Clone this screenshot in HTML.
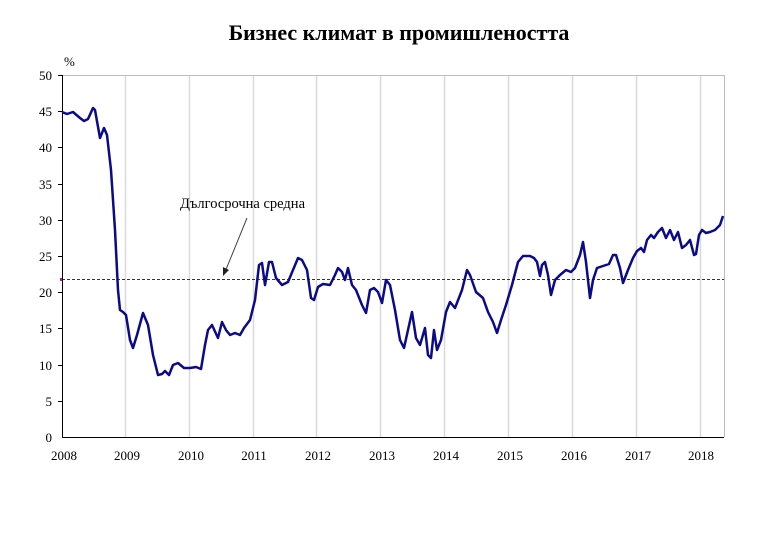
<!DOCTYPE html><html><head><meta charset="utf-8"><style>body{margin:0;background:#fff}</style></head><body>
<svg width="768" height="529" xmlns="http://www.w3.org/2000/svg" font-family="Liberation Serif, serif">
<rect width="768" height="529" fill="#fff"/>
<text x="399" y="40" text-anchor="middle" font-size="22" font-weight="bold">Бизнес климат в промишлеността</text>
<g stroke="#d9d9d9" stroke-width="1.5">
<line x1="125.5" y1="75" x2="125.5" y2="437"/><line x1="189.5" y1="75" x2="189.5" y2="437"/><line x1="253.5" y1="75" x2="253.5" y2="437"/><line x1="316.5" y1="75" x2="316.5" y2="437"/><line x1="380.5" y1="75" x2="380.5" y2="437"/><line x1="444.5" y1="75" x2="444.5" y2="437"/><line x1="508.5" y1="75" x2="508.5" y2="437"/><line x1="572.5" y1="75" x2="572.5" y2="437"/><line x1="636.5" y1="75" x2="636.5" y2="437"/><line x1="700.5" y1="75" x2="700.5" y2="437"/>
</g>
<line x1="62" y1="75.5" x2="724" y2="75.5" stroke="#bbb"/>
<line x1="724.5" y1="75" x2="724.5" y2="437" stroke="#bbb"/>
<line x1="62" y1="279.5" x2="724" y2="279.5" stroke="#333" stroke-dasharray="3,2"/>
<rect x="60" y="278" width="3" height="3" fill="#d0a"/>
<line x1="62.5" y1="75" x2="62.5" y2="437" stroke="#000"/>
<line x1="62" y1="437.5" x2="724" y2="437.5" stroke="#000"/>
<g stroke="#000"><line x1="58" y1="75.5" x2="62" y2="75.5"/><line x1="58" y1="111.5" x2="62" y2="111.5"/><line x1="58" y1="147.5" x2="62" y2="147.5"/><line x1="58" y1="184.5" x2="62" y2="184.5"/><line x1="58" y1="220.5" x2="62" y2="220.5"/><line x1="58" y1="256.5" x2="62" y2="256.5"/><line x1="58" y1="292.5" x2="62" y2="292.5"/><line x1="58" y1="328.5" x2="62" y2="328.5"/><line x1="58" y1="365.5" x2="62" y2="365.5"/><line x1="58" y1="401.5" x2="62" y2="401.5"/></g>
<g font-size="13" text-anchor="end">
<text x="52" y="80">50</text><text x="52" y="116">45</text><text x="52" y="152">40</text><text x="52" y="189">35</text><text x="52" y="225">30</text><text x="52" y="261">25</text><text x="52" y="297">20</text><text x="52" y="333">15</text><text x="52" y="370">10</text><text x="52" y="406">5</text><text x="52" y="442">0</text></g>
<text x="64" y="66" font-size="13">%</text>
<g font-size="13" text-anchor="middle">
<text x="64" y="460">2008</text><text x="127" y="460">2009</text><text x="191" y="460">2010</text><text x="254" y="460">2011</text><text x="318" y="460">2012</text><text x="382" y="460">2013</text><text x="446" y="460">2014</text><text x="510" y="460">2015</text><text x="574" y="460">2016</text><text x="638" y="460">2017</text><text x="701" y="460">2018</text></g>
<text x="180" y="208" font-size="14.5">Дългосрочна средна</text>
<line x1="247" y1="218" x2="225" y2="272" stroke="#444"/>
<polygon points="223,276 223,267 229,270" fill="#222"/>
<polyline fill="none" stroke="#0a0a8a" stroke-width="2.5" stroke-linejoin="round" points="62,112 67,114 73,112 80,118 84,121 88,119 93,108 95,110 100,138 104,128 107,135 111,170 115,230 118,290 120,310 123,312 126,315 130,340 133,348 137,335 143,313 148,325 153,355 158,375 162,374 165,371 169,375 173,365 178,363 184,368 190,368 196,367 201,369 205,345 208,330 212,325 218,338 222,322 226,330 230,335 235,333 240,335 244,328 250,320 255,300 259,265 262,263 265,285 269,262 272,262 276,278 282,285 288,282 293,270 298,258 302,260 307,270 311,298 314,300 318,287 323,284 330,285 335,275 338,268 342,272 345,280 348,268 352,285 356,290 362,305 366,313 370,290 374,288 378,292 382,303 386,280 390,285 395,310 400,340 404,348 408,330 412,312 416,338 420,345 425,328 428,355 431,358 434,330 437,350 441,340 446,312 450,302 455,308 462,290 467,270 470,275 476,292 483,298 488,312 493,322 497,333 501,320 506,305 512,285 518,262 523,256 530,256 534,258 537,262 540,276 542,265 545,262 548,275 551,295 555,280 560,275 566,270 571,272 575,268 580,255 583,242 586,262 590,298 593,280 597,268 603,266 609,264 613,255 616,255 620,268 623,283 628,270 633,258 637,251 641,248 644,252 647,240 651,235 654,238 658,232 662,228 666,238 670,230 674,240 678,232 682,248 686,245 690,240 694,255 696,254 699,235 702,230 706,233 710,232 715,230 720,225 723,216"/>
</svg></body></html>
